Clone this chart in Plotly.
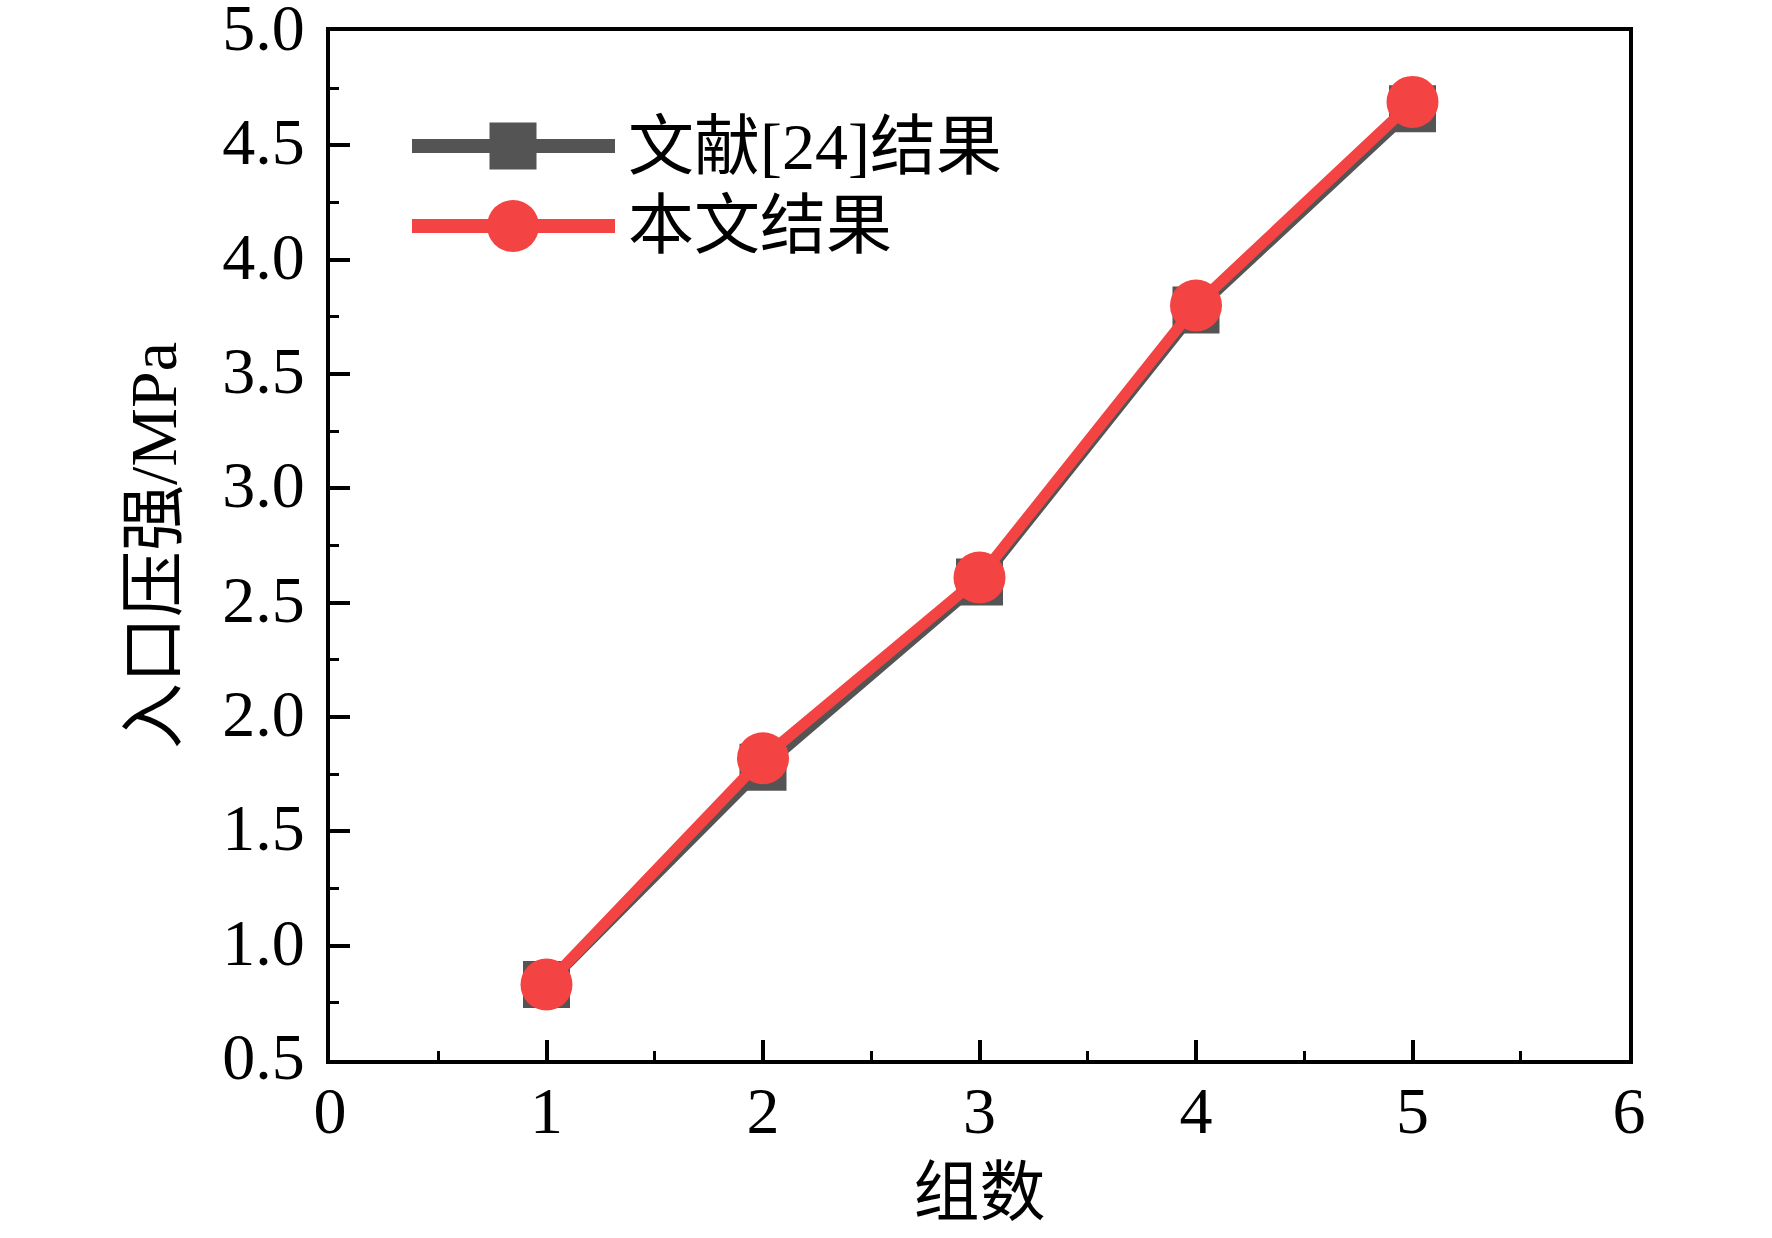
import plotly.graph_objects as go

# group number and inlet pressure (MPa)
groups = [1, 2, 3, 4, 5]
p_ref24 = [0.83, 1.78, 2.59, 3.78, 4.66]
p_this = [0.83, 1.82, 2.61, 3.80, 4.69]

names = ["文献[24]结果", "本文结果"]
colors = ["#545454", "#F44343"]

x_ticks = [0, 1, 2, 3, 4, 5, 6]
y_ticks = [0.5, 1.0, 1.5, 2.0, 2.5, 3.0, 3.5, 4.0, 4.5, 5.0]

FONT = "Liberation Serif, Times New Roman, Noto Sans CJK SC, serif"
W, H = 1772, 1238
L, R, T, B = 330, 143, 31, 178

fig = go.Figure()
fig.add_trace(go.Scatter(
    x=groups, y=p_ref24, mode="lines+markers", name=names[0],
    line=dict(color=colors[0], width=11),
    marker=dict(symbol="square", size=47, color=colors[0]),
    showlegend=False,
))
fig.add_trace(go.Scatter(
    x=groups, y=p_this, mode="lines+markers", name=names[1],
    line=dict(color=colors[1], width=11),
    marker=dict(symbol="circle", size=52, color=colors[1]),
    showlegend=False,
))

# hand-made legend (plotly caps legend line length / marker size)
pw, ph = W - L - R, H - T - B
def px_x(v):
    return (v - L) / pw
def px_y(v):
    return (H - B - v) / ph

shapes = []
annotations = []
rows = [146, 226]
for i, cy in enumerate(rows):
    shapes.append(dict(type="line", xref="paper", yref="paper",
                       x0=px_x(412), x1=px_x(615), y0=px_y(cy), y1=px_y(cy),
                       line=dict(color=colors[i], width=14)))
    half = 23.5 if i == 0 else 26
    shapes.append(dict(type="rect" if i == 0 else "circle",
                       xref="paper", yref="paper",
                       xsizemode="pixel", ysizemode="pixel",
                       xanchor=px_x(513), yanchor=px_y(cy),
                       x0=-half, x1=half, y0=-half, y1=half,
                       fillcolor=colors[i], line=dict(width=0)))
    annotations.append(dict(xref="paper", yref="paper", x=px_x(626), y=px_y(cy),
                            xanchor="left", yanchor="middle", showarrow=False,
                            text=names[i], font=dict(size=66, color="black", family=FONT)))

axis_common = dict(
    showline=True, linewidth=4, linecolor="black", mirror=True,
    ticks="inside", ticklen=20, tickwidth=3.5, tickcolor="black",
    showgrid=False, zeroline=False, ticklabeloverflow="allow", automargin=False,
    tickfont=dict(size=66, color="black", family=FONT),
    title_font=dict(size=66, color="black", family=FONT),
)

fig.update_layout(
    width=W, height=H,
    margin=dict(l=L, r=R, t=T, b=B),
    plot_bgcolor="white", paper_bgcolor="white",
    font=dict(family=FONT, color="black"),
    shapes=shapes, annotations=annotations,
    xaxis=dict(range=[0, 6], tickmode="array", tickvals=x_ticks,
               minor=dict(ticks="inside", ticklen=9, tickwidth=3, dtick=0.5, tickcolor="black"),
               title=dict(text="组数", standoff=24), ticklabelstandoff=-10, **axis_common),
    yaxis=dict(range=[0.5, 5.0], tickmode="array", tickvals=y_ticks,
               ticktext=[f"{v:.1f}" for v in y_ticks],
               minor=dict(ticks="inside", ticklen=9, tickwidth=3, dtick=0.25, tickcolor="black"),
               title=dict(text="入口压强/MPa", standoff=25), ticklabelstandoff=8,
               ticklabelshift=-4, **axis_common),
)

fig.write_html("out.html", config={"displayModeBar": False},
               post_script="document.body.style.margin='0px';")
